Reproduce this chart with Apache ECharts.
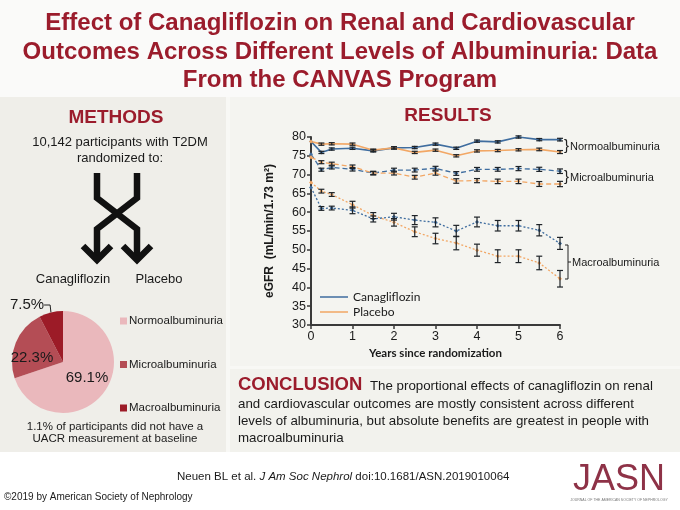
<!DOCTYPE html>
<html><head><meta charset="utf-8">
<script src="https://cdn.jsdelivr.net/npm/echarts@6/dist/echarts.min.js"></script>
<style>html,body{margin:0;padding:0;background:#f8f8f5;}#c{width:680px;height:510px;}</style>
</head><body><div id="c"></div>
<script>
// ---- data ----
const years = [0, 0.25, 0.5, 1, 1.5, 2, 2.5, 3, 3.5, 4, 4.5, 5, 5.5, 6];
const normoCana = [78.8, 75.9, 76.8, 77.0, 76.3, 77.1, 77.2, 78.1, 77.0, 78.9, 78.7, 80.0, 79.3, 79.3];
const normoPlac = [78.8, 78.1, 78.2, 78.1, 76.5, 77.1, 75.9, 76.5, 75.0, 76.3, 76.4, 76.6, 76.7, 76.0];
const microCana = [75.4, 71.3, 71.9, 71.4, 70.4, 71.2, 71.2, 71.7, 70.3, 71.4, 71.4, 71.6, 71.4, 70.9];
const microPlac = [74.6, 73.3, 72.9, 72.1, 70.4, 70.4, 69.3, 70.4, 68.3, 68.4, 68.2, 68.2, 67.5, 67.5];
const macroCana = [66.6, 61.0, 61.1, 60.5, 58.2, 58.8, 57.9, 57.3, 55.0, 57.4, 56.4, 56.4, 55.2, 51.7];
const macroPlac = [67.9, 65.6, 64.7, 62.0, 59.1, 57.3, 54.8, 53.0, 51.8, 49.9, 48.3, 48.3, 46.5, 42.3];
// half-widths of error bars (0 = no bar)
const normoCanaErr = [0, 0.3, 0.3, 0.3, 0.3, 0.3, 0.3, 0.3, 0.3, 0.3, 0.3, 0.3, 0.3, 0.35];
const normoPlacErr = [0, 0.3, 0.3, 0.3, 0.3, 0.3, 0.3, 0.3, 0.3, 0.3, 0.3, 0.3, 0.35, 0.4];
const microCanaErr = [0, 0.4, 0.4, 0.45, 0.45, 0.5, 0.5, 0.5, 0.5, 0.5, 0.5, 0.55, 0.55, 0.6];
const microPlacErr = [0, 0.4, 0.4, 0.45, 0.45, 0.5, 0.5, 0.55, 0.6, 0.55, 0.6, 0.6, 0.65, 0.7];
const macroCanaErr = [0, 0.5, 0.5, 0.9, 0.8, 0.9, 1.2, 1.2, 1.5, 1.3, 1.4, 1.4, 1.5, 1.6];
const macroPlacErr = [0, 0.5, 0.5, 0.9, 0.8, 1.0, 1.3, 1.4, 1.8, 1.6, 1.7, 1.7, 1.8, 2.2];
const xTicks = [0, 1, 2, 3, 4, 5, 6];
const pieNames = ['Normoalbuminuria', 'Microalbuminuria', 'Macroalbuminuria'];
const pieValues = [69.1, 22.3, 7.5];
const pieLabels = ['69.1%', '22.3%', '7.5%'];

// ---- styling ----
const RED = '#9b1c2c';
const BLUE = '#3f6d9f';
const ORANGE = '#f2a765';
const pieColors = ['#eab8bc', '#b44d55', '#9c1b27'];
const SANS = '"Liberation Sans", Arial, sans-serif';
const CAL = 'Lato, "Open Sans", sans-serif';

function pairs(vals) { return years.map((t, i) => [t, vals[i]]); }
function errData(vals, errs) {
  const out = [];
  years.forEach((t, i) => { if (errs[i] > 0) out.push([t, vals[i] - errs[i], vals[i] + errs[i]]); });
  return out;
}
function lineSeries(name, vals, color, type) {
  return {
    type: 'line', name: name, data: pairs(vals), z: 3,
    symbol: 'diamond', symbolSize: 4, showSymbol: true,
    lineStyle: { color: color, width: type === 'solid' ? 1.6 : 1.3, type: type },
    itemStyle: { color: color }, emphasis: { disabled: true }
  };
}
function errSeries(vals, errs) {
  return {
    type: 'custom', data: errData(vals, errs), z: 4, silent: true,
    renderItem: function (params, api) {
      const x = api.value(0);
      const lo = api.coord([x, api.value(1)]);
      const hi = api.coord([x, api.value(2)]);
      const w = 3;
      const st = { stroke: '#1e2328', lineWidth: 1.2, fill: null };
      return { type: 'group', children: [
        { type: 'line', shape: { x1: lo[0], y1: lo[1], x2: hi[0], y2: hi[1] }, style: st },
        { type: 'line', shape: { x1: lo[0] - w, y1: lo[1], x2: lo[0] + w, y2: lo[1] }, style: st },
        { type: 'line', shape: { x1: hi[0] - w, y1: hi[1], x2: hi[0] + w, y2: hi[1] }, style: st }
      ]};
    }
  };
}

const chart = echarts.init(document.getElementById('c'), null, { renderer: 'canvas' });

const graphics = [
  // panels
  { type: 'rect', z: -10, shape: { x: 0, y: 0, width: 680, height: 97 }, style: { fill: '#fafaf9' } },
  { type: 'rect', z: -10, shape: { x: 0, y: 97, width: 226, height: 355 }, style: { fill: '#efeee9' } },
  { type: 'rect', z: -10, shape: { x: 230, y: 97, width: 450, height: 269 }, style: { fill: '#f4f4f0' } },
  { type: 'rect', z: -10, shape: { x: 230, y: 369, width: 450, height: 83 }, style: { fill: '#f2f2ed' } },
  { type: 'rect', z: -10, shape: { x: 0, y: 452, width: 680, height: 58 }, style: { fill: '#ffffff' } },
  // title
  { type: 'text', x: 340, y: 23, style: { text: 'Effect of Canagliflozin on Renal and Cardiovascular', font: 'bold 24px ' + SANS, fill: RED, align: 'center', verticalAlign: 'middle' } },
  { type: 'text', x: 340, y: 52, style: { text: 'Outcomes Across Different Levels of Albuminuria: Data', font: 'bold 24px ' + SANS, fill: RED, align: 'center', verticalAlign: 'middle' } },
  { type: 'text', x: 340, y: 80, style: { text: 'From the CANVAS Program', font: 'bold 24px ' + SANS, fill: RED, align: 'center', verticalAlign: 'middle' } },
  // methods
  { type: 'text', x: 116, y: 118, style: { text: 'METHODS', font: 'bold 19px ' + SANS, fill: RED, align: 'center', verticalAlign: 'middle' } },
  { type: 'text', x: 120, y: 142, style: { text: '10,142 participants with T2DM', font: '13px ' + SANS, fill: '#1a1a1a', align: 'center', verticalAlign: 'middle' } },
  { type: 'text', x: 120, y: 158, style: { text: 'randomized to:', font: '13px ' + SANS, fill: '#1a1a1a', align: 'center', verticalAlign: 'middle' } },
  { type: 'polyline', shape: { points: [[97, 173], [97, 198], [137, 229], [137, 259]] }, style: { stroke: '#111', lineWidth: 6.5, fill: null, lineJoin: 'miter' } },
  { type: 'polyline', shape: { points: [[137, 173], [137, 198], [97, 229], [97, 259]] }, style: { stroke: '#111', lineWidth: 6.5, fill: null, lineJoin: 'miter' } },
  { type: 'polyline', shape: { points: [[83, 246], [97, 260], [111, 246]] }, style: { stroke: '#111', lineWidth: 6.5, fill: null, lineJoin: 'miter' } },
  { type: 'polyline', shape: { points: [[123, 246], [137, 260], [151, 246]] }, style: { stroke: '#111', lineWidth: 6.5, fill: null, lineJoin: 'miter' } },
  { type: 'text', x: 73, y: 279, style: { text: 'Canagliflozin', font: '13px ' + SANS, fill: '#1a1a1a', align: 'center', verticalAlign: 'middle' } },
  { type: 'text', x: 159, y: 279, style: { text: 'Placebo', font: '13px ' + SANS, fill: '#1a1a1a', align: 'center', verticalAlign: 'middle' } },
  { type: 'text', x: 115, y: 427, style: { text: '1.1% of participants did not have a', font: '11.5px ' + SANS, fill: '#1a1a1a', align: 'center', verticalAlign: 'middle' } },
  { type: 'text', x: 115, y: 439, style: { text: 'UACR measurement at baseline', font: '11.5px ' + SANS, fill: '#1a1a1a', align: 'center', verticalAlign: 'middle' } },
  // results
  { type: 'text', x: 448, y: 116, style: { text: 'RESULTS', font: 'bold 19px ' + SANS, fill: RED, align: 'center', verticalAlign: 'middle' } },
  { type: 'text', x: 564, y: 146, style: { text: '}', font: '15px ' + SANS, fill: '#222', align: 'left', verticalAlign: 'middle' } },
  { type: 'text', x: 570, y: 147, style: { text: 'Normoalbuminuria', font: '11px ' + SANS, fill: '#1a1a1a', align: 'left', verticalAlign: 'middle' } },
  { type: 'text', x: 564, y: 177, style: { text: '}', font: '15px ' + SANS, fill: '#222', align: 'left', verticalAlign: 'middle' } },
  { type: 'text', x: 570, y: 178, style: { text: 'Microalbuminuria', font: '11px ' + SANS, fill: '#1a1a1a', align: 'left', verticalAlign: 'middle' } },
  { type: 'polyline', shape: { points: [[565, 245], [568, 245], [568, 279], [565, 279]] }, style: { stroke: '#222', lineWidth: 1, fill: null } },
  { type: 'line', shape: { x1: 568, y1: 262, x2: 571, y2: 262 }, style: { stroke: '#222', lineWidth: 1 } },
  { type: 'text', x: 572, y: 263, style: { text: 'Macroalbuminuria', font: '11px ' + SANS, fill: '#1a1a1a', align: 'left', verticalAlign: 'middle' } },
  // conclusion
  { type: 'text', x: 238, y: 385, style: { text: 'CONCLUSION', font: 'bold 18.5px ' + SANS, fill: RED, align: 'left', verticalAlign: 'middle' } },
  { type: 'text', x: 370, y: 386, style: { text: 'The proportional effects of canagliflozin on renal', font: '13.3px ' + SANS, fill: '#1a1a1a', align: 'left', verticalAlign: 'middle' } },
  { type: 'text', x: 238, y: 404, style: { text: 'and cardiovascular outcomes are mostly consistent across different', font: '13.3px ' + SANS, fill: '#1a1a1a', align: 'left', verticalAlign: 'middle' } },
  { type: 'text', x: 238, y: 421, style: { text: 'levels of albuminuria, but absolute benefits are greatest in people with', font: '13.3px ' + SANS, fill: '#1a1a1a', align: 'left', verticalAlign: 'middle' } },
  { type: 'text', x: 238, y: 438, style: { text: 'macroalbuminuria', font: '13.3px ' + SANS, fill: '#1a1a1a', align: 'left', verticalAlign: 'middle' } },
  // footer
  { type: 'text', x: 177, y: 477, style: { text: '{n|Neuen BL et al. }{i|J Am Soc Nephrol}{n| doi:10.1681/ASN.2019010064}', rich: { n: { font: '11.5px ' + SANS, fill: '#1a1a1a' }, i: { font: 'italic 11.5px ' + SANS, fill: '#1a1a1a' } }, align: 'left', verticalAlign: 'middle' } },
  { type: 'text', x: 619, y: 480, style: { text: 'JASN', font: '36px ' + SANS, fill: '#8e3247', align: 'center', verticalAlign: 'middle' } },
  { type: 'text', x: 619, y: 500, style: { text: 'JOURNAL OF THE AMERICAN SOCIETY OF NEPHROLOGY', font: '3.5px ' + SANS, fill: '#777', align: 'center', verticalAlign: 'middle' } },
  { type: 'text', x: 4, y: 497, style: { text: '©2019 by American Society of Nephrology', font: '10px ' + SANS, fill: '#1a1a1a', align: 'left', verticalAlign: 'middle' } }
];

const option = {
  animation: false,
  backgroundColor: '#f8f8f5',
  textStyle: { fontFamily: SANS },
  grid: { left: 311, right: 120, top: 137, bottom: 185, containLabel: false },
  legend: [
    {
      data: ['Canagliflozin', 'Placebo'], orient: 'vertical', left: 320, top: 291, padding: 0,
      icon: 'rect', itemWidth: 28, itemHeight: 1.5, itemGap: 3,
      textStyle: { fontFamily: CAL, fontSize: 12, color: '#1a1a1a' }, selectedMode: false
    },
    {
      data: pieNames, orient: 'vertical', left: 120, top: 315, padding: 0,
      icon: 'rect', itemWidth: 7, itemHeight: 7, itemGap: 31.5,
      textStyle: { fontFamily: SANS, fontSize: 11.5, color: '#1a1a1a', padding: [0, 0, 0, -3] }, selectedMode: false
    }
  ],
  xAxis: {
    type: 'value', min: 0, max: 6, interval: 1,
    name: 'Years since randomization', nameLocation: 'middle', nameGap: 22,
    nameTextStyle: { fontFamily: CAL, fontWeight: 'bold', fontSize: 11.5, color: '#1a1a1a' },
    axisLine: { lineStyle: { color: '#3a3a3a', width: 2 } },
    axisTick: { show: true, length: 4, lineStyle: { color: '#3a3a3a', width: 1.5 } },
    axisLabel: { fontFamily: SANS, fontSize: 12.5, color: '#1a1a1a', margin: 5, formatter: v => xTicks.includes(v) ? String(v) : '' },
    splitLine: { show: false }
  },
  yAxis: {
    type: 'value', min: 30, max: 80, interval: 5,
    name: 'eGFR  (mL/min/1.73 m²)', nameLocation: 'middle', nameGap: 35, nameRotate: 90,
    nameTextStyle: { fontFamily: SANS, fontWeight: 'bold', fontSize: 12, color: '#1a1a1a' },
    axisLine: { show: true, lineStyle: { color: '#3a3a3a', width: 2 } },
    axisTick: { show: true, length: 4, lineStyle: { color: '#3a3a3a', width: 1.5 } },
    axisLabel: { fontFamily: SANS, fontSize: 12.5, color: '#1a1a1a', margin: 5 },
    splitLine: { show: false }
  },
  series: [
    lineSeries('Canagliflozin', normoCana, BLUE, 'solid'),
    lineSeries('Placebo', normoPlac, ORANGE, 'solid'),
    lineSeries('Canagliflozin micro', microCana, BLUE, [5, 3]),
    lineSeries('Placebo micro', microPlac, ORANGE, [5, 3]),
    lineSeries('Canagliflozin macro', macroCana, BLUE, [2, 2]),
    lineSeries('Placebo macro', macroPlac, ORANGE, [2, 2]),
    errSeries(normoCana, normoCanaErr),
    errSeries(normoPlac, normoPlacErr),
    errSeries(microCana, microCanaErr),
    errSeries(microPlac, microPlacErr),
    errSeries(macroCana, macroCanaErr),
    errSeries(macroPlac, macroPlacErr),
    {
      type: 'pie', center: [63, 362], radius: 51, startAngle: 90, clockwise: true,
      silent: true, emphasis: { disabled: true },
      data: pieNames.map((n, i) => ({
        name: n, value: pieValues[i], itemStyle: { color: pieColors[i] },
        label: i < 2 ? { position: 'inside', formatter: pieLabels[i] } : { position: 'outside', formatter: pieLabels[i], overflow: 'none', alignTo: 'none' },
        labelLine: i < 2 ? { show: false } : { show: true, length: 4, length2: 6, lineStyle: { color: '#222', width: 1 } }
      })),
      label: { fontFamily: SANS, fontSize: 15, color: '#1a1a1a', overflow: 'none' },
      labelLayout: function (p) {
        if (p.dataIndex === 1) return { x: 32, y: 358, align: 'center', verticalAlign: 'middle' };
        if (p.dataIndex === 0) return { x: 87, y: 378, align: 'center', verticalAlign: 'middle' };
        return { x: 27, y: 305, align: 'center', verticalAlign: 'middle', width: 40 };
      }
    }
  ],
  graphic: graphics
};
chart.setOption(option);
</script>
</body></html>
